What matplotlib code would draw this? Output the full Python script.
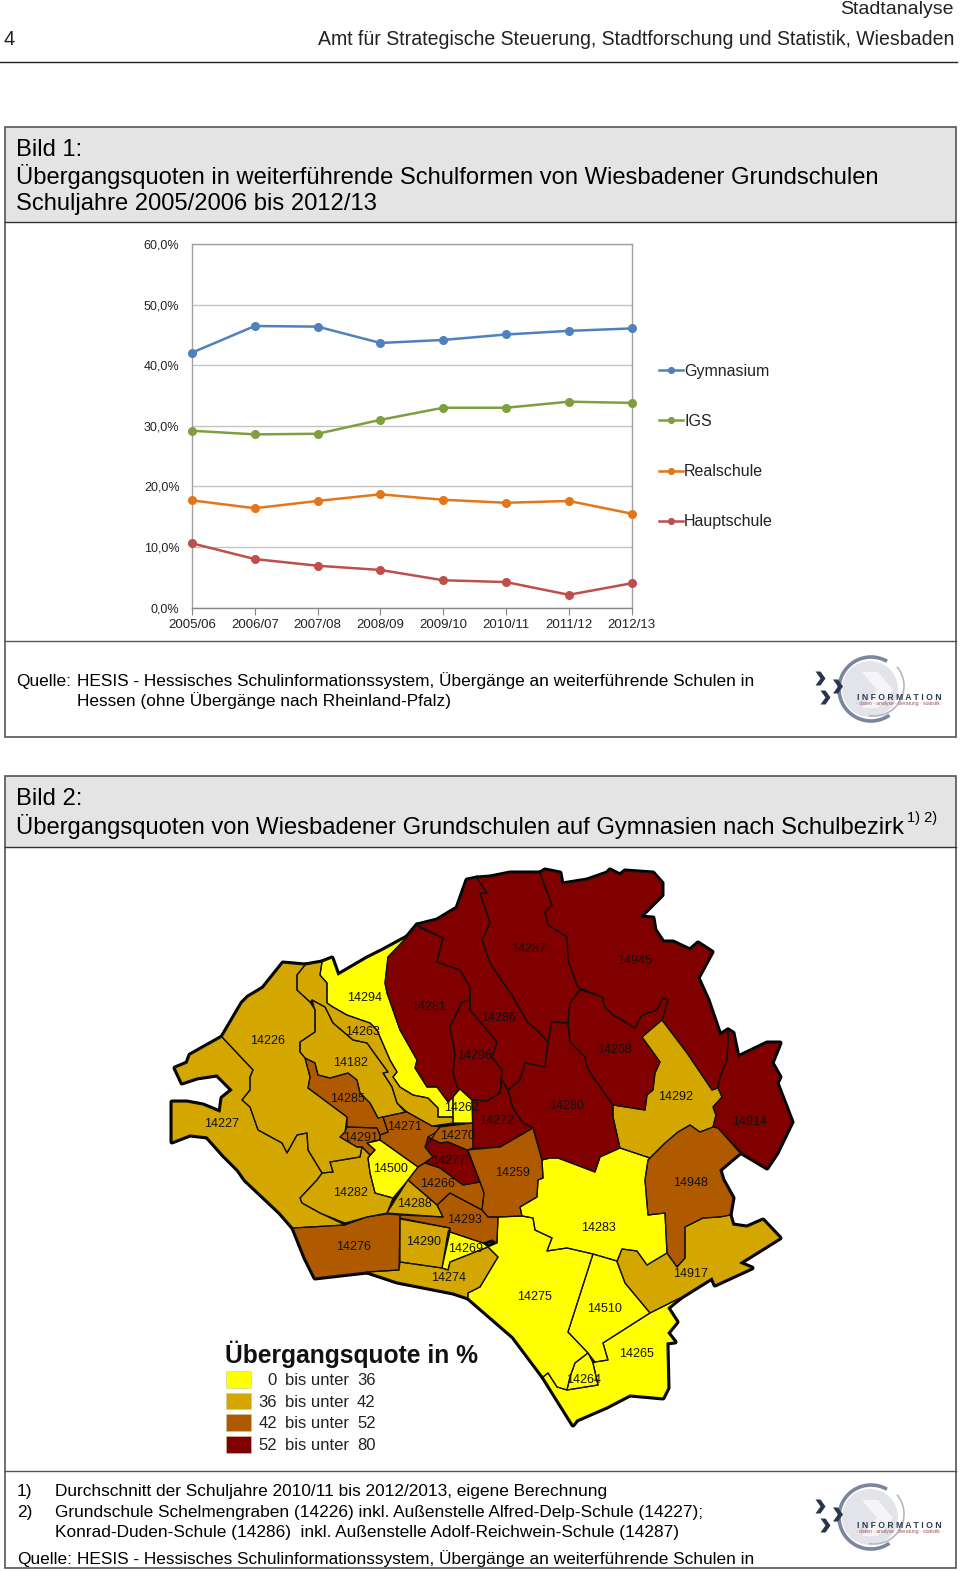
import matplotlib
matplotlib.use("Agg")
import matplotlib.pyplot as plt
from matplotlib.patches import Polygon, Rectangle, Circle, Arc

plt.rcParams['font.family'] = ['Liberation Sans', 'DejaVu Sans']

# Bild 1: Uebergangsquoten
years = ['2005/06', '2006/07', '2007/08', '2008/09', '2009/10', '2010/11', '2011/12', '2012/13']
gymnasium = [42.1, 46.5, 46.4, 43.7, 44.2, 45.1, 45.7, 46.1]
igs = [29.2, 28.6, 28.7, 31.0, 33.0, 33.0, 34.0, 33.8]
realschule = [17.7, 16.4, 17.6, 18.7, 17.8, 17.3, 17.6, 15.5]
hauptschule = [10.6, 8.0, 6.9, 6.2, 4.5, 4.2, 2.1, 4.0]
y_ticks = [0, 10, 20, 30, 40, 50, 60]
y_labels = ['0,0%', '10,0%', '20,0%', '30,0%', '40,0%', '50,0%', '60,0%']

class_colors = ['#FFFF00', '#D4A600', '#B05A00', '#800000']
class_low = ['0', '36', '42', '52']
class_high = ['36', '42', '52', '80']

district_ids = ['14227', '14226', '14263', '14182', '14285', '14291', '14271', '14500', '14288', '14277',
                '14266', '14293', '14259', '14270', '14262', '14294', '14281', '14296', '14286', '14287',
                '14945', '14268', '14280', '14272', '14292', '14914', '14948', '14917', '14283', '14275',
                '14510', '14264', '14265', '14276', '14290', '14269', '14274', '14282']
district_class = [1, 1, 1, 1, 2, 2, 2, 0, 1, 3,
                  2, 2, 2, 2, 0, 0, 3, 3, 3, 3,
                  3, 3, 3, 3, 1, 3, 2, 1, 0, 0,
                  0, 0, 0, 2, 1, 0, 1, 1]
district_outlines = [
    [(222,1037),(190,1055),(187,1063),(175,1068),(182,1083),(197,1078),(217,1075),(232,1090),(222,1098),(220,1112),(203,1105),(187,1102),(172,1102),(172,1142),(190,1135),(207,1137),(223,1155),(238,1170),(245,1180),(280,1213),(293,1228),(345,1225),(320,1213),(302,1203),(300,1198),(317,1180),(322,1173),(308,1150),(307,1133),(297,1135),(287,1153),(282,1143),(258,1130),(250,1107),(242,1100),(250,1090),(250,1077),(253,1070)],
    [(222,1037),(242,1003),(248,997),(263,988),(283,963),(305,965),(297,975),(297,990),(310,1002),(315,1010),(315,1032),(300,1042),(300,1052),(305,1058),(310,1077),(308,1088),(347,1117),(345,1132),(340,1137),(357,1147),(362,1147),(360,1157),(330,1162),(333,1172),(322,1173),(308,1150),(307,1133),(297,1135),(287,1153),(282,1143),(258,1130),(250,1107),(242,1100),(250,1090),(250,1077),(253,1070)],
    [(305,965),(322,962),(320,975),(327,983),(327,1003),(333,1007),(347,1015),(370,1023),(377,1030),(390,1060),(397,1072),(393,1077),(400,1087),(413,1095),(428,1098),(438,1108),(438,1117),(453,1117),(453,1123),(432,1126),(407,1112),(397,1103),(392,1087),(383,1073),(388,1072),(377,1057),(367,1043),(353,1040),(333,1023),(325,1007),(312,1000),(310,1002),(297,990),(297,975)],
    [(312,1000),(325,1007),(333,1023),(353,1040),(367,1043),(377,1057),(388,1072),(383,1073),(392,1087),(397,1103),(405,1112),(383,1117),(378,1118),(370,1103),(360,1093),(357,1080),(348,1073),(330,1078),(318,1075),(315,1063),(305,1058),(300,1052),(300,1042),(315,1032),(315,1010)],
    [(305,1058),(315,1063),(318,1075),(330,1078),(348,1073),(357,1080),(360,1093),(370,1103),(378,1118),(383,1117),(388,1132),(380,1135),(377,1128),(347,1127),(347,1117),(308,1088),(310,1077)],
    [(347,1127),(377,1128),(380,1135),(380,1140),(367,1143),(375,1150),(370,1155),(362,1147),(357,1147),(340,1137),(345,1132)],
    [(383,1117),(407,1112),(432,1126),(440,1127),(435,1133),(433,1137),(425,1147),(433,1157),(418,1167),(380,1140),(380,1135),(388,1132)],
    [(380,1140),(418,1167),(408,1180),(393,1198),(375,1193),(370,1173),(368,1158),(375,1150),(367,1143)],
    [(408,1180),(437,1205),(443,1217),(387,1213)],
    [(428,1137),(440,1143),(448,1142),(467,1150),(480,1182),(463,1185),(440,1168),(425,1163),(433,1157),(425,1147)],
    [(425,1163),(440,1168),(463,1185),(480,1182),(484,1193),(482,1210),(450,1193),(437,1205),(408,1180),(418,1167)],
    [(437,1205),(450,1193),(482,1210),(488,1217),(498,1217),(497,1243),(492,1240),(483,1243),(450,1232),(450,1228),(400,1218),(400,1215),(443,1217)],
    [(468,1150),(500,1147),(533,1128),(542,1160),(543,1178),(538,1180),(537,1197),(520,1207),(522,1216),(498,1217),(488,1217),(482,1210),(484,1193),(480,1182)],
    [(440,1127),(473,1123),(473,1148),(467,1150),(448,1142),(440,1143),(428,1137),(435,1133)],
    [(453,1097),(460,1089),(472,1100),(473,1123),(453,1123)],
    [(407,937),(383,950),(367,958),(338,975),(332,958),(322,962),(320,975),(327,983),(327,1003),(333,1007),(347,1015),(370,1023),(377,1030),(390,1060),(397,1072),(393,1077),(400,1087),(413,1095),(428,1098),(438,1108),(438,1117),(453,1117),(453,1097),(448,1102),(437,1087),(427,1087),(415,1068),(417,1060),(400,1030),(387,993),(385,983),(388,957)],
    [(407,937),(417,925),(420,928),(443,938),(437,962),(460,970),(470,987),(470,1000),(462,1002),(450,1027),(455,1053),(453,1073),(458,1090),(453,1097),(448,1102),(437,1087),(427,1087),(415,1068),(417,1060),(400,1030),(387,993),(385,983),(388,957)],
    [(470,1000),(462,1002),(450,1027),(455,1053),(453,1073),(458,1090),(460,1089),(472,1100),(487,1101),(500,1093),(502,1070),(492,1057),(497,1042),(470,1010)],
    [(417,925),(437,920),(457,908),(467,880),(477,878),(487,893),(480,893),(490,923),(482,940),(490,963),(500,978),(510,992),(528,1023),(537,1030),(548,1042),(545,1067),(525,1063),(520,1080),(508,1090),(502,1080),(500,1093),(502,1070),(492,1057),(497,1042),(470,1010),(470,987),(460,970),(437,962),(443,938)],
    [(477,878),(490,877),(510,873),(527,873),(540,873),(552,905),(545,912),(548,925),(567,937),(568,960),(577,985),(580,990),(570,1003),(568,1023),(552,1022),(548,1042),(537,1030),(528,1023),(510,992),(500,978),(490,963),(482,940),(490,923),(480,893),(487,893)],
    [(540,873),(545,870),(560,873),(562,884),(587,880),(607,873),(610,870),(620,875),(625,871),(653,873),(662,883),(662,895),(640,917),(653,918),(655,930),(663,942),(673,942),(690,950),(698,943),(712,952),(698,978),(708,1000),(720,1035),(728,1030),(728,1040),(727,1060),(720,1077),(718,1088),(712,1090),(687,1053),(662,1020),(668,1000),(663,998),(657,1010),(642,1015),(635,1028),(613,1015),(605,1007),(602,997),(580,988),(577,985),(568,960),(567,937),(548,925),(545,912),(552,905)],
    [(580,990),(602,997),(605,1007),(613,1015),(635,1028),(642,1015),(657,1010),(663,998),(668,1000),(662,1020),(642,1037),(660,1062),(655,1073),(653,1090),(647,1095),(645,1110),(613,1105),(593,1077),(587,1067),(585,1057),(570,1042),(568,1023),(570,1003)],
    [(548,1042),(552,1022),(568,1023),(570,1042),(585,1057),(587,1067),(593,1077),(613,1105),(613,1117),(620,1148),(600,1157),(595,1172),(558,1158),(550,1158),(542,1160),(533,1128),(523,1123),(513,1108),(508,1090),(520,1080),(525,1063),(545,1067)],
    [(472,1100),(487,1101),(500,1093),(502,1080),(508,1090),(513,1108),(523,1123),(533,1128),(500,1147),(473,1148)],
    [(662,1020),(687,1053),(712,1090),(718,1088),(722,1097),(713,1107),(716,1115),(713,1127),(700,1132),(690,1125),(678,1132),(665,1143),(650,1158),(620,1148),(613,1117),(613,1105),(645,1110),(647,1095),(653,1090),(655,1073),(660,1062),(642,1037)],
    [(733,1033),(738,1057),(767,1043),(780,1043),(772,1063),(780,1077),(777,1083),(792,1122),(777,1153),(767,1168),(742,1153),(718,1128),(713,1127),(716,1115),(713,1107),(722,1097),(718,1088),(720,1077),(727,1060),(728,1040),(728,1030)],
    [(650,1158),(665,1143),(678,1132),(690,1125),(700,1132),(713,1127),(718,1128),(740,1153),(720,1170),(723,1180),(733,1198),(730,1215),(720,1217),(703,1218),(685,1227),(685,1258),(677,1267),(667,1253),(665,1213),(648,1215),(645,1180),(648,1160)],
    [(730,1215),(733,1225),(747,1227),(763,1220),(780,1238),(740,1263),(752,1268),(715,1285),(712,1278),(680,1298),(650,1313),(625,1283),(617,1262),(622,1249),(637,1251),(647,1265),(667,1253),(677,1267),(685,1258),(685,1227),(703,1218),(720,1217)],
    [(550,1158),(558,1158),(595,1172),(600,1157),(620,1148),(632,1152),(650,1158),(648,1160),(645,1180),(648,1215),(665,1213),(667,1253),(647,1265),(637,1251),(622,1249),(617,1261),(593,1254),(567,1248),(547,1251),(552,1238),(535,1230),(533,1218),(522,1216),(520,1207),(537,1197),(538,1180),(543,1178),(542,1160)],
    [(498,1217),(522,1216),(533,1218),(535,1230),(552,1238),(547,1251),(567,1248),(593,1254),(568,1332),(588,1353),(575,1363),(570,1377),(567,1390),(557,1387),(548,1373),(543,1377),(513,1337),(468,1298),(468,1293),(480,1287),(498,1257),(488,1247),(497,1243)],
    [(593,1254),(617,1261),(625,1283),(650,1313),(603,1343),(608,1360),(595,1362),(588,1353),(568,1332)],
    [(588,1353),(593,1363),(598,1385),(567,1390),(570,1377),(575,1363)],
    [(650,1313),(680,1298),(668,1308),(677,1322),(668,1333),(675,1342),(667,1343),(668,1388),(663,1398),(630,1395),(607,1407),(577,1420),(573,1425),(543,1377),(548,1373),(557,1387),(567,1390),(598,1385),(593,1363),(595,1362),(608,1360),(603,1343)],
    [(293,1228),(345,1225),(367,1217),(387,1214),(400,1215),(399,1270),(367,1272),(315,1278),(305,1258)],
    [(400,1219),(450,1228),(448,1232),(442,1268),(400,1262)],
    [(450,1232),(483,1243),(488,1247),(460,1258),(450,1262),(448,1270),(442,1268)],
    [(400,1262),(442,1268),(448,1270),(450,1262),(460,1258),(488,1247),(498,1257),(480,1287),(468,1293),(468,1298),(453,1293),(397,1282),(367,1272),(399,1270)],
    [(322,1173),(317,1180),(300,1198),(302,1203),(320,1213),(345,1223),(367,1217),(387,1213),(393,1198),(375,1193),(370,1173),(368,1158),(370,1155),(362,1147),(360,1157),(330,1162),(333,1172)],
]

label_ids = ['14287', '14945', '14294', '14281', '14286', '14263', '14226', '14296', '14182', '14268',
             '14285', '14262', '14292', '14280', '14227', '14272', '14914', '14271', '14270', '14291',
             '14277', '14500', '14259', '14266', '14948', '14282', '14288', '14293', '14283', '14290',
             '14276', '14269', '14917', '14274', '14275', '14510', '14265', '14264']
label_x = [527, 634, 364, 427, 498, 361, 267, 474, 350, 614,
           346, 461, 675, 565, 221, 496, 749, 404, 457, 360,
           448, 389, 511, 437, 689, 350, 413, 463, 597, 423,
           353, 465, 690, 448, 534, 604, 635, 583]
label_y = [946, 958, 995, 1004, 1015, 1029, 1038, 1053, 1060, 1047,
           1096, 1105, 1094, 1103, 1121, 1118, 1119, 1124, 1133, 1135,
           1158, 1166, 1170, 1181, 1180, 1190, 1201, 1217, 1225, 1239,
           1244, 1246, 1271, 1275, 1294, 1306, 1351, 1377]

fig = plt.figure(figsize=(9.6, 15.71), dpi=100)
page = fig.add_axes([0, 0, 1, 1])
page.set_xlim(0, 960)
page.set_ylim(1571, 0)
page.axis('off')


def txt(x, y, s, size=12, ha='left', **kw):
    page.text(x, y + 1.5, s, fontsize=size, ha=ha, va='center', **kw)


# Kopfzeile
txt(954, 8, 'Stadtanalyse', 14, ha='right', color='#222222')
txt(954, 38, 'Amt für Strategische Steuerung, Stadtforschung und Statistik, Wiesbaden', 14.05, ha='right', color='#222222')
txt(4, 38, '4', 14.5, color='#222222')
page.plot([0, 957], [62, 62], color='#222222', lw=1)

# Kaesten
for top, band, bottom in [(127, 222, 737), (776, 847, 1568)]:
    page.add_patch(Rectangle((4.5, top), 951, band - top, fc='#E4E4E4', ec='none'))
    page.add_patch(Rectangle((4.5, top), 951, bottom - top, fc='none', ec='#555555', lw=1.2))
    page.plot([4.5, 955.5], [band, band], color='#333333', lw=1)
page.plot([4.5, 955.5], [641, 641], color='#555555', lw=1)
page.plot([4.5, 955.5], [1471, 1471], color='#555555', lw=1)

txt(16, 148, 'Bild 1:', 17.1)
txt(16, 175, 'Übergangsquoten in weiterführende Schulformen von Wiesbadener Grundschulen', 17.1)
txt(16, 202, 'Schuljahre 2005/2006 bis 2012/13', 17.1)
txt(16, 680, 'Quelle:', 12.45)
txt(77, 679, 'HESIS - Hessisches Schulinformationssystem, Übergänge an weiterführende Schulen in', 12.45)
txt(77, 699, 'Hessen (ohne Übergänge nach Rheinland-Pfalz)', 12.45)

txt(16, 797.5, 'Bild 2:', 17.1)
txt(16, 824.5, 'Übergangsquoten von Wiesbadener Grundschulen auf Gymnasien nach Schulbezirk', 17.1)
txt(907, 816, '1) 2)', 10.5)

txt(17, 1490, '1)', 12.45)
txt(55, 1490, 'Durchschnitt der Schuljahre 2010/11 bis 2012/2013, eigene Berechnung', 12.45)
txt(17, 1511, '2)', 12.45)
txt(55, 1511, 'Grundschule Schelmengraben (14226) inkl. Außenstelle Alfred-Delp-Schule (14227);', 12.45)
txt(55, 1531, 'Konrad-Duden-Schule (14286)  inkl. Außenstelle Adolf-Reichwein-Schule (14287)', 12.45)
txt(17, 1558, 'Quelle:', 12.45)
txt(77, 1557, 'HESIS - Hessisches Schulinformationssystem, Übergänge an weiterführende Schulen in', 12.45)


# Logo, zweimal verwendet
def logo(dy):
    page.add_patch(Circle((870, 689 + dy), 28, fc='#E3E4EA', ec='none'))
    page.add_patch(Polygon([(862, 672 + dy), (878, 672 + dy), (893, 690 + dy), (878, 708 + dy), (862, 708 + dy), (877, 690 + dy)],
                           fc='#F5F5F7', ec='none'))
    page.add_patch(Arc((871, 689 + dy), 64, 64, theta1=55, theta2=300, color='#7A869E', lw=2.6))
    page.add_patch(Arc((874, 686 + dy), 60, 60, theta1=-40, theta2=100, color='#B5B8C2', lw=1.2))
    for cx, cy in [(820.5, 678.5), (838, 686.5), (825.5, 697.5)]:
        page.add_patch(Polygon([(cx - 5, cy - 7 + dy), (cx, cy - 7 + dy), (cx + 5, cy + dy), (cx, cy + 7 + dy),
                                (cx - 5, cy + 7 + dy), (cx, cy + dy)], fc='#26364F', ec='none'))
    txt(899, 696 + dy, 'I N F O R M A T I O N', 6.2, ha='center', color='#2B3A55', fontweight='bold')
    txt(899, 702 + dy, '· daten · analyse · beratung · statistik ·', 3.6, ha='center', color='#A0525A')


logo(0)
logo(828)

# Karte: erst dicke Raender, dann Flaechen darueber, so bleibt nur der Aussenrand dick
for outline in district_outlines:
    page.add_patch(Polygon(outline, closed=True, fc='black', ec='black', lw=3.6, joinstyle='round', zorder=2))
for outline, cls in zip(district_outlines, district_class):
    page.add_patch(Polygon(outline, closed=True, fc=class_colors[cls], ec='none', zorder=3))
for outline in district_outlines:
    page.add_patch(Polygon(outline, closed=True, fc='none', ec='#111111', lw=0.9, joinstyle='round', zorder=4))
for name, x, y in zip(label_ids, label_x, label_y):
    page.text(x + 1, y + 3, name, fontsize=9, ha='center', va='center', color='#111111', zorder=5)

# Legende der Karte
txt(225, 1352.5, 'Übergangsquote in %', 17.7, fontweight='bold', color='#111111')
for i in range(4):
    yc = 1379 + i * 21.7
    page.add_patch(Rectangle((226, yc - 8), 24.5, 16.5, fc=class_colors[i], ec='#C8C8A0', lw=0.4))
    txt(277, yc, class_low[i], 12, ha='right', color='#222222')
    txt(285, yc, 'bis unter', 12, color='#222222')
    txt(357, yc, class_high[i], 12, color='#222222')

# Bild 1: Liniendiagramm
ax = fig.add_axes([192 / 960, 1 - 607.5 / 1571, 439.6 / 960, 363.2 / 1571])
ax.patch.set_alpha(0)
ax.set_xlim(0, 7)
ax.set_ylim(0, 60)
x = list(range(len(years)))
ax.plot(x, gymnasium, color='#4F81BD', lw=1.8, marker='o', ms=5.5, clip_on=False, label='Gymnasium', zorder=4)
ax.plot(x, igs, color='#7F9F3F', lw=1.8, marker='o', ms=5.5, clip_on=False, label='IGS', zorder=4)
ax.plot(x, realschule, color='#E3761B', lw=1.8, marker='o', ms=5.5, clip_on=False, label='Realschule', zorder=4)
ax.plot(x, hauptschule, color='#BE4F4C', lw=1.8, marker='o', ms=5.5, clip_on=False, label='Hauptschule', zorder=4)
ax.set_yticks(y_ticks)
ax.set_yticklabels(y_labels, fontsize=9, color='#222222')
ax.set_xticks(x)
ax.set_xticklabels(years, fontsize=9.5, color='#222222')
ax.tick_params(axis='y', length=0, pad=9)
ax.tick_params(axis='x', length=5, color='#868686', pad=3.5)
ax.grid(axis='y', color='#C4C4C4', lw=1)
ax.set_axisbelow(True)
for side in ax.spines:
    ax.spines[side].set_color('#A0A0A0')
    ax.spines[side].set_linewidth(1)
ax.spines['bottom'].set_color('#868686')
ax.legend(loc='center left', bbox_to_anchor=(1.016, 0.443), frameon=False, fontsize=11.5, labelspacing=2.2,
          handlelength=1.45, handletextpad=0.1, borderaxespad=0.9, labelcolor='#222222', markerscale=0.75)

fig.savefig('out.png', dpi=100)
